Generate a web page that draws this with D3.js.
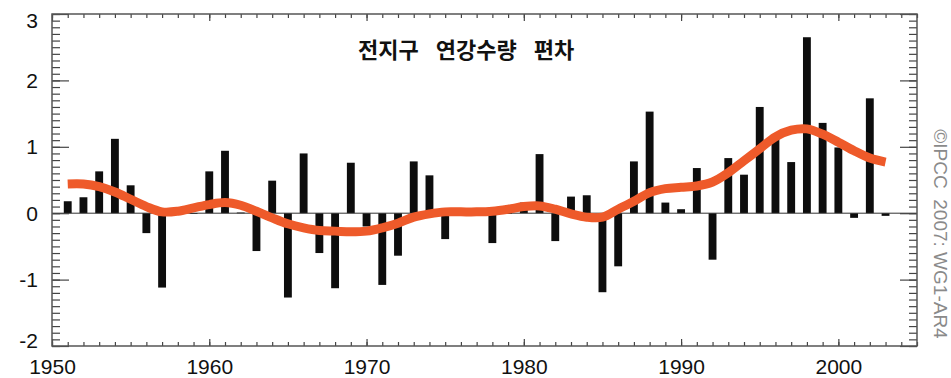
<!DOCTYPE html>
<html>
<head>
<meta charset="utf-8">
<script src="https://cdn.jsdelivr.net/npm/d3@7"></script>
<style>
  html, body { margin: 0; padding: 0; background: #fff; }
  svg { display: block; }
</style>
</head>
<body>
<svg id="chart" width="951" height="378"></svg>
<script>
// Annual global precipitation anomalies, 1951–2003
const years = d3.range(1951, 2004);
const anomalies = [
  0.18, 0.24, 0.63, 1.12, 0.42, -0.30, -1.12, 0.02, -0.01, 0.63,
  0.94, 0.01, -0.57, 0.49, -1.27, 0.90, -0.60, -1.13, 0.76, -0.20,
  -1.08, -0.64, 0.78, 0.57, -0.39, 0.01, 0.03, -0.45, 0.00, 0.16,
  0.89, -0.42, 0.25, 0.27, -1.19, -0.80, 0.78, 1.53, 0.16, 0.06,
  0.68, -0.70, 0.83, 0.58, 1.60, 1.12, 0.77, 2.65, 1.36, 0.99,
  -0.07, 1.73, -0.04
];
// Smoothed decadal variation
const smoothed = [
  0.44, 0.44, 0.40, 0.32, 0.21, 0.10, 0.02, 0.03, 0.08, 0.13,
  0.16, 0.12, 0.03, -0.07, -0.16, -0.22, -0.26, -0.27, -0.28, -0.27,
  -0.22, -0.15, -0.06, -0.01, 0.02, 0.02, 0.02, 0.03, 0.06, 0.10,
  0.11, 0.06, -0.01, -0.06, -0.06, 0.06, 0.18, 0.31, 0.37, 0.39,
  0.41, 0.47, 0.61, 0.79, 0.97, 1.15, 1.25, 1.27, 1.19, 1.07,
  0.94, 0.83, 0.77
];
const yTickValues = [-2, -1, 0, 1, 2, 3];
const xTickValues = [1950, 1960, 1970, 1980, 1990, 2000];
const titleWords = ["전지구", "연강수량", "편차"];
const creditText = "©IPCC  2007: WG1-AR4";

const svg = d3.select("#chart");
const plotLeft = 52, plotRight = 917, plotTop = 14, plotBottom = 346;

const x = d3.scaleLinear().domain([1950, 2005]).range([plotLeft, plotRight]);
const y = d3.scaleLinear().domain([-2, 3]).range([plotBottom, plotTop]);

const barW = x(1950.5) - x(1950);

// Bars
svg.append("g")
  .selectAll("rect")
  .data(years.map((yr, i) => ({ yr, v: anomalies[i] })))
  .join("rect")
  .attr("x", d => x(d.yr) - barW / 2)
  .attr("width", barW)
  .attr("y", d => y(Math.max(0, d.v)))
  .attr("height", d => Math.max(0.8, Math.abs(y(d.v) - y(0))))
  .attr("fill", "#0d0d0d");

// Zero line
svg.append("line")
  .attr("x1", plotLeft).attr("x2", plotRight)
  .attr("y1", y(0)).attr("y2", y(0))
  .attr("stroke", "#333").attr("stroke-width", 1);

// Smoothed curve
const line = d3.line()
  .x((d, i) => x(years[i]))
  .y(d => y(d))
  .curve(d3.curveCatmullRom.alpha(0.5));

svg.append("path")
  .datum(smoothed)
  .attr("d", line)
  .attr("fill", "none")
  .attr("stroke", "#ee5a2a")
  .attr("stroke-width", 9)
  .attr("stroke-linecap", "butt");

// Tick marks pointing inward on all four sides
const tickColor = "#444";
function styleTicks(g) {
  g.select(".domain").remove();
  g.selectAll(".tick line").attr("stroke", tickColor).attr("stroke-width", 1.2);
  g.selectAll(".tick text").remove();
}
const yMinor = d3.range(-20, 31).map(v => v / 10);
const xMinor = d3.range(1950, 2006);

svg.append("g").attr("transform", `translate(${plotLeft},0)`)
  .call(d3.axisRight(y).tickValues(yMinor).tickSize(8)).call(styleTicks);
svg.append("g").attr("transform", `translate(${plotLeft},0)`)
  .call(d3.axisRight(y).tickValues(yTickValues).tickSize(17)).call(styleTicks);
svg.append("g").attr("transform", `translate(${plotRight},0)`)
  .call(d3.axisLeft(y).tickValues(yMinor).tickSize(8)).call(styleTicks);
svg.append("g").attr("transform", `translate(${plotRight},0)`)
  .call(d3.axisLeft(y).tickValues(yTickValues).tickSize(17)).call(styleTicks);

svg.append("g").attr("transform", `translate(0,${plotBottom})`)
  .call(d3.axisTop(x).tickValues(xMinor).tickSize(4)).call(styleTicks);
svg.append("g").attr("transform", `translate(0,${plotBottom})`)
  .call(d3.axisTop(x).tickValues(xTickValues).tickSize(7)).call(styleTicks);
svg.append("g").attr("transform", `translate(0,${plotTop})`)
  .call(d3.axisBottom(x).tickValues(xMinor).tickSize(4)).call(styleTicks);
svg.append("g").attr("transform", `translate(0,${plotTop})`)
  .call(d3.axisBottom(x).tickValues(xTickValues).tickSize(7)).call(styleTicks);

// Frame
svg.append("rect")
  .attr("x", plotLeft).attr("y", plotTop)
  .attr("width", plotRight - plotLeft).attr("height", plotBottom - plotTop)
  .attr("fill", "none").attr("stroke", "#555").attr("stroke-width", 1.5);

// Tick labels (plain hyphen for negatives)
const labelFont = "'Liberation Sans', Arial, Helvetica, sans-serif";
const intFmt = d => String(d);
const yLab = svg.append("g").attr("transform", `translate(${plotLeft},0)`)
  .call(d3.axisLeft(y).tickValues(yTickValues).tickSize(0).tickPadding(14).tickFormat(intFmt));
yLab.select(".domain").remove();
yLab.selectAll("text")
  .attr("font-family", labelFont).attr("font-size", 21).attr("fill", "#111")
  .attr("dy", d => d === 3 ? "0.62em" : d === -2 ? "0.05em" : "0.34em");

const xLab = svg.append("g").attr("transform", `translate(0,${plotBottom})`)
  .call(d3.axisBottom(x).tickValues(xTickValues).tickSize(0).tickPadding(13).tickFormat(intFmt));
xLab.select(".domain").remove();
xLab.selectAll("text")
  .attr("font-family", labelFont).attr("font-size", 21).attr("fill", "#111");

// Title
const title = svg.append("text")
  .attr("x", 358).attr("y", 58)
  .attr("font-family", "'Noto Sans CJK KR', sans-serif")
  .attr("font-size", 22).attr("font-weight", "bold").attr("fill", "#111");
titleWords.forEach((w, i) => {
  title.append("tspan").attr("dx", i === 0 ? 0 : 17).text(w);
});

// Credit, running down the right margin
svg.append("text")
  .attr("transform", "translate(934,234) rotate(90)")
  .attr("text-anchor", "middle")
  .attr("font-family", labelFont)
  .attr("font-size", 19).attr("fill", "#8a8a8a")
  .style("white-space", "pre")
  .text(creditText);
</script>
</body>
</html>
